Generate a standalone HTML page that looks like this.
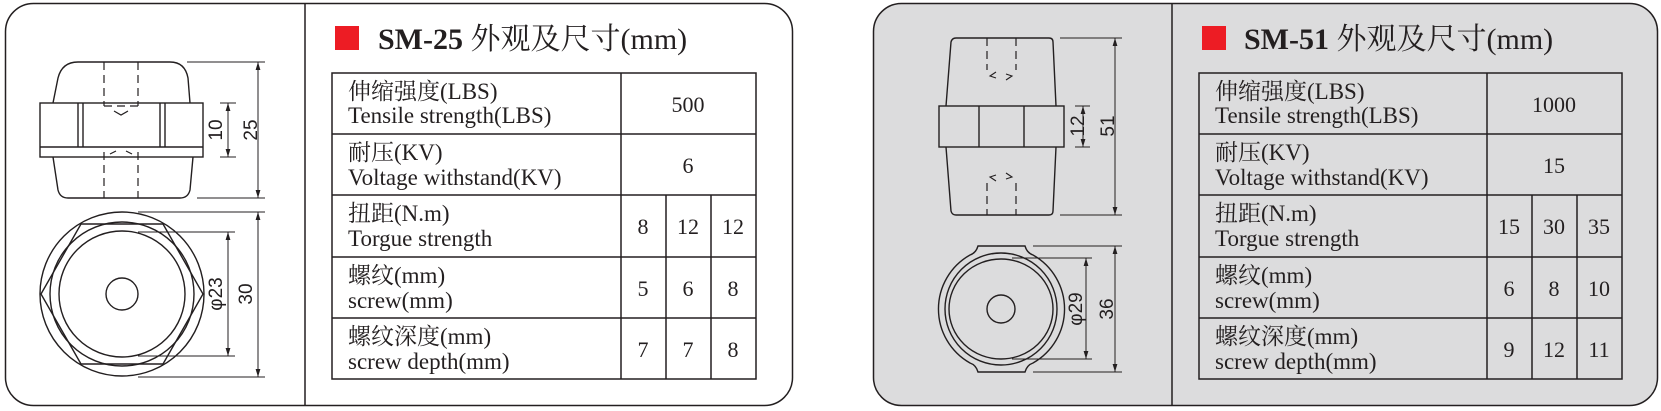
<!DOCTYPE html>
<html><head><meta charset="utf-8"><style>
html,body{margin:0;padding:0;background:#fff;}
svg{display:block;}
.t{font-family:"Liberation Serif","Noto Serif CJK SC",serif;fill:#231f20;}
.s{font-family:"Liberation Sans",sans-serif;fill:#231f20;font-size:19px;}
</style></head><body>
<svg width="1661" height="411" viewBox="0 0 1661 411" xmlns="http://www.w3.org/2000/svg">
<defs>
<marker id="a" viewBox="0 0 10 10" refX="10" refY="5" markerWidth="8" markerHeight="8" orient="auto-start-reverse" markerUnits="userSpaceOnUse"><path d="M0,2 L10,5 L0,8 z" fill="#231f20"/></marker>
</defs>
<rect x="5.5" y="3.5" width="787" height="402" rx="28" fill="#fff" stroke="#231f20" stroke-width="1.5"/>
<line x1="305" y1="4" x2="305" y2="405" stroke="#231f20" stroke-width="1.5"/>
<rect x="873.5" y="3.5" width="784" height="402" rx="28" fill="#dcdcdd" stroke="#231f20" stroke-width="1.5"/>
<line x1="1172" y1="4" x2="1172" y2="405" stroke="#231f20" stroke-width="1.5"/>

<g fill="none" stroke="#231f20" stroke-width="1.4">
<path d="M53,103 L58,78 Q62,62 78,62 L170,62 Q185,62 188,78 L190,103"/>
<rect x="40" y="103" width="163" height="54"/>
<line x1="40" y1="147" x2="203" y2="147"/>
<line x1="78" y1="103" x2="78" y2="147"/><line x1="83" y1="103" x2="83" y2="147"/>
<line x1="160" y1="103" x2="160" y2="147"/><line x1="165" y1="103" x2="165" y2="147"/>
<path d="M53,157 L58,190 Q60,198 68,198 L180,198 Q188,198 190,190 L193,157"/>
<g stroke-dasharray="8,5" stroke-width="1.2">
<line x1="104" y1="62" x2="104" y2="106"/><line x1="138" y1="62" x2="138" y2="106"/>
<line x1="104" y1="106" x2="138" y2="106"/>
<line x1="104" y1="152" x2="104" y2="198"/><line x1="138" y1="152" x2="138" y2="198"/>
</g>
<path d="M114,111 L121,115 L128,111" stroke-width="1.2"/>
<path d="M110,154 L116,151 M126,151 L132,154" stroke-width="1.2"/>
<line x1="187" y1="62" x2="265" y2="62" stroke-width="1"/>
<line x1="197" y1="198" x2="265" y2="198" stroke-width="1"/>
<line x1="258" y1="62" x2="258" y2="198" stroke-width="1" marker-start="url(#a)" marker-end="url(#a)"/>
<line x1="220" y1="103" x2="236" y2="103" stroke-width="1"/>
<line x1="220" y1="157" x2="236" y2="157" stroke-width="1"/>
<line x1="228" y1="103" x2="228" y2="157" stroke-width="1" marker-start="url(#a)" marker-end="url(#a)"/>
<circle cx="122" cy="294" r="82"/>
<polygon points="41,294 81,224 163,224 203,294 163,364 81,364"/>
<circle cx="122" cy="294" r="72"/>
<circle cx="122" cy="294" r="63"/>
<circle cx="122" cy="294" r="16"/>
<line x1="138" y1="212" x2="265" y2="212" stroke-width="1"/>
<line x1="138" y1="377" x2="265" y2="377" stroke-width="1"/>
<line x1="258" y1="212" x2="258" y2="377" stroke-width="1" marker-start="url(#a)" marker-end="url(#a)"/>
<line x1="138" y1="232" x2="235" y2="232" stroke-width="1"/>
<line x1="138" y1="356" x2="235" y2="356" stroke-width="1"/>
<line x1="228" y1="232" x2="228" y2="356" stroke-width="1" marker-start="url(#a)" marker-end="url(#a)"/>
</g>
<text class="s" transform="translate(222,130) rotate(-90)" text-anchor="middle">10</text>
<text class="s" transform="translate(257,130) rotate(-90)" text-anchor="middle">25</text>
<text class="s" transform="translate(222,294) rotate(-90)" text-anchor="middle">φ23</text>
<text class="s" transform="translate(252,294) rotate(-90)" text-anchor="middle">30</text>

<g fill="none" stroke="#231f20" stroke-width="1.4">
<path d="M946,106 L951,42 Q952,38 956,38 L1049,38 Q1053,38 1053,42 L1056,106"/>
<rect x="939" y="106" width="125" height="41"/>
<line x1="979" y1="106" x2="979" y2="147"/><line x1="1024" y1="106" x2="1024" y2="147"/>
<path d="M946,147 L951,211 Q952,215 956,215 L1049,215 Q1053,215 1053,211 L1056,147"/>
<g stroke-dasharray="8,5" stroke-width="1.2">
<line x1="987" y1="38" x2="987" y2="70"/><line x1="1016" y1="38" x2="1016" y2="70"/>
<line x1="987" y1="183" x2="987" y2="215"/><line x1="1016" y1="183" x2="1016" y2="215"/>
</g>
<path d="M996,72 L990,76 L996,78 M1006,74 L1012,76 L1006,80" stroke-width="1.1"/>
<path d="M996,175 L990,177 L996,181 M1006,173 L1012,177 L1006,179" stroke-width="1.1"/>
<line x1="1060" y1="38" x2="1122" y2="38" stroke-width="1"/>
<line x1="1060" y1="215" x2="1122" y2="215" stroke-width="1"/>
<line x1="1115" y1="38" x2="1115" y2="215" stroke-width="1" marker-start="url(#a)" marker-end="url(#a)"/>
<line x1="1075" y1="106" x2="1090" y2="106" stroke-width="1"/>
<line x1="1075" y1="147" x2="1090" y2="147" stroke-width="1"/>
<line x1="1083" y1="106" x2="1083" y2="147" stroke-width="1" marker-start="url(#a)" marker-end="url(#a)"/>
<path d="M978,246 L1025,246 Q1027,253 1033,255 A62,62 0 0 1 1033,363 Q1027,365 1025,372 L978,372 Q976,365 970,363 A62,62 0 0 1 970,255 Q976,253 978,246 Z"/>
<circle cx="1001" cy="309" r="56"/>
<ellipse cx="1001" cy="309" rx="52" ry="50"/>
<circle cx="1001" cy="309" r="14"/>
<line x1="1033" y1="246" x2="1122" y2="246" stroke-width="1"/>
<line x1="1033" y1="372" x2="1122" y2="372" stroke-width="1"/>
<line x1="1115" y1="246" x2="1115" y2="372" stroke-width="1" marker-start="url(#a)" marker-end="url(#a)"/>
<line x1="1012" y1="258" x2="1092" y2="258" stroke-width="1"/>
<line x1="1012" y1="359" x2="1092" y2="359" stroke-width="1"/>
<line x1="1086" y1="258" x2="1086" y2="359" stroke-width="1" marker-start="url(#a)" marker-end="url(#a)"/>
</g>
<text class="s" transform="translate(1084,126) rotate(-90)" text-anchor="middle">12</text>
<text class="s" transform="translate(1114,126) rotate(-90)" text-anchor="middle">51</text>
<text class="s" transform="translate(1082,309) rotate(-90)" text-anchor="middle">φ29</text>
<text class="s" transform="translate(1113,309) rotate(-90)" text-anchor="middle">36</text>

<rect x="335" y="26" width="24" height="24" fill="#ed1c24"/>
<text class="t" x="378" y="49" font-size="30"><tspan font-weight="bold">SM-25</tspan> 外观及尺寸(mm)</text>
<g fill="none" stroke="#231f20" stroke-width="1.5">
<rect x="332" y="73" width="424" height="306"/>
<line x1="332" y1="134" x2="756" y2="134"/><line x1="332" y1="195" x2="756" y2="195"/>
<line x1="332" y1="257" x2="756" y2="257"/><line x1="332" y1="318" x2="756" y2="318"/>
<line x1="621" y1="73" x2="621" y2="379"/>
<line x1="666" y1="195" x2="666" y2="379"/><line x1="711" y1="195" x2="711" y2="379"/>
</g>
<g class="t" font-size="23">
<text x="348" y="99">伸缩强度(LBS)</text><text x="348" y="123">Tensile strength(LBS)</text>
<text x="348" y="160">耐压(KV)</text><text x="348" y="185">Voltage withstand(KV)</text>
<text x="348" y="221">扭距(N.m)</text><text x="348" y="246">Torgue strength</text>
<text x="348" y="283">螺纹(mm)</text><text x="348" y="308">screw(mm)</text>
<text x="348" y="344">螺纹深度(mm)</text><text x="348" y="369">screw depth(mm)</text>
<g text-anchor="middle" font-size="22">
<text x="688" y="112">500</text><text x="688" y="173">6</text>
<text x="643" y="234">8</text><text x="688" y="234">12</text><text x="733" y="234">12</text>
<text x="643" y="296">5</text><text x="688" y="296">6</text><text x="733" y="296">8</text>
<text x="643" y="357">7</text><text x="688" y="357">7</text><text x="733" y="357">8</text>
</g></g>

<rect x="1202" y="26" width="24" height="24" fill="#ed1c24"/>
<text class="t" x="1244" y="49" font-size="30"><tspan font-weight="bold">SM-51</tspan> 外观及尺寸(mm)</text>
<g fill="none" stroke="#231f20" stroke-width="1.5">
<rect x="1199" y="73" width="423" height="306"/>
<line x1="1199" y1="134" x2="1622" y2="134"/><line x1="1199" y1="195" x2="1622" y2="195"/>
<line x1="1199" y1="257" x2="1622" y2="257"/><line x1="1199" y1="318" x2="1622" y2="318"/>
<line x1="1487" y1="73" x2="1487" y2="379"/>
<line x1="1532" y1="195" x2="1532" y2="379"/><line x1="1577" y1="195" x2="1577" y2="379"/>
</g>
<g class="t" font-size="23">
<text x="1215" y="99">伸缩强度(LBS)</text><text x="1215" y="123">Tensile strength(LBS)</text>
<text x="1215" y="160">耐压(KV)</text><text x="1215" y="185">Voltage withstand(KV)</text>
<text x="1215" y="221">扭距(N.m)</text><text x="1215" y="246">Torgue strength</text>
<text x="1215" y="283">螺纹(mm)</text><text x="1215" y="308">screw(mm)</text>
<text x="1215" y="344">螺纹深度(mm)</text><text x="1215" y="369">screw depth(mm)</text>
<g text-anchor="middle" font-size="22">
<text x="1554" y="112">1000</text><text x="1554" y="173">15</text>
<text x="1509" y="234">15</text><text x="1554" y="234">30</text><text x="1599" y="234">35</text>
<text x="1509" y="296">6</text><text x="1554" y="296">8</text><text x="1599" y="296">10</text>
<text x="1509" y="357">9</text><text x="1554" y="357">12</text><text x="1599" y="357">11</text>
</g></g>
</svg>
</body></html>
